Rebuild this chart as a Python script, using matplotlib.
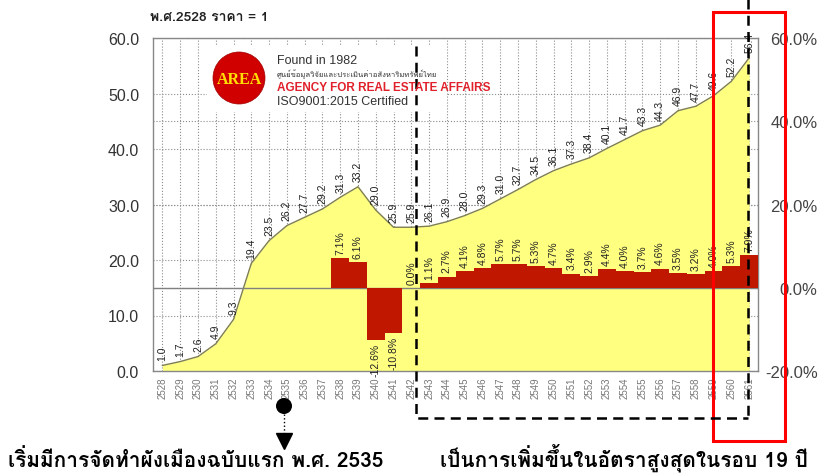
import matplotlib
matplotlib.use("Agg")
import matplotlib.pyplot as plt
from matplotlib import font_manager
from matplotlib.ft2font import FT2Font
from matplotlib.patches import Rectangle, Circle

# price index (2528 = 1) and yearly growth
years = list(range(2528, 2562))
prices = [1.0, 1.7, 2.6, 4.9, 9.3, 19.4, 23.5, 26.2, 27.7, 29.2,
          31.3, 33.2, 29.0, 25.9, 25.9, 26.1, 26.9, 28.0, 29.3, 31.0,
          32.7, 34.5, 36.1, 37.3, 38.4, 40.1, 41.7, 43.3, 44.3, 46.9,
          47.7, 49.6, 52.2, 56.4]
growth_years = list(range(2538, 2562))
growth = [7.1, 6.1, -12.6, -10.8, 0.0, 1.1, 2.7, 4.1, 4.8, 5.7,
          5.7, 5.3, 4.7, 3.4, 2.9, 4.4, 4.0, 3.7, 4.6, 3.5,
          3.2, 4.0, 5.3, 7.9]
left_ticks = [0, 10, 20, 30, 40, 50, 60]
right_ticks = [-20, 0, 20, 40, 60]


def find_thai_font():
    tried = set()
    for f in font_manager.fontManager.ttflist:
        if f.fname in tried:
            continue
        tried.add(f.fname)
        try:
            if 0x0E01 in FT2Font(f.fname).get_charmap():
                return f.name
        except Exception:
            pass
    return 'DejaVu Sans'


thai = find_thai_font()
plt.rcParams['font.family'] = ['Liberation Sans', 'DejaVu Sans']
thai_fam = [thai, 'Liberation Sans', 'DejaVu Sans']

W, H = 823, 477
fig = plt.figure(figsize=(W / 100, H / 100), dpi=100)
ax = fig.add_axes([153 / W, 1 - 372 / H, 605 / W, 333 / H])
ax2 = ax.twinx()
# left axes on top so the yellow area hides the right-axis grid
ax.set_zorder(ax2.get_zorder() + 1)
ax.patch.set_visible(False)

ax.set_xlim(2527.47, 2561.5)
ax.set_ylim(0, 60)
ax2.set_ylim(-20, 60)

grid_kw = dict(color='#8C8C8C', linestyle=':', linewidth=0.8)
ax.set_axisbelow(True)
ax.set_xticks(years)
ax.set_xticklabels([str(y) for y in years], rotation=90, fontsize=7, color='#777777')
ax.set_yticks(left_ticks)
ax.set_yticklabels(['%.1f' % t for t in left_ticks], fontsize=11.5, color='#333333')
ax.grid(True, **grid_kw)
ax.tick_params(length=0)
ax.tick_params(axis='y', pad=10)
ax.tick_params(axis='x', pad=4)

ax2.set_yticks(right_ticks)
ax2.set_yticklabels(['%.1f%%' % t for t in right_ticks], fontsize=12, color='#444444',
                    ha='right')
ax2.grid(True, axis='y', **grid_kw)
ax2.tick_params(length=0, pad=43)
for sp in ax2.spines.values():
    sp.set_visible(False)
for sp in ax.spines.values():
    sp.set_color('#888888')
    sp.set_linewidth(1)

# price area
ax.fill_between(years, prices, 0, color='#FFFF80', zorder=1, linewidth=0)
ax.plot(years, prices, color='#7E7E50', linewidth=1, zorder=2)
for y, v in zip(years, prices):
    ax.annotate('%.1f' % v, (y, v), xytext=(0, 4), textcoords='offset points',
                rotation=90, ha='center', va='bottom', fontsize=7.5, color='#222222', zorder=5)

# growth bars on the right scale
t2 = ax2.transData
ax.plot([0, 1], [0, 0], transform=ax2.get_yaxis_transform(), color='#808080',
        linewidth=1, zorder=3)
ax.bar(growth_years, growth, width=1.0, color='#C01800', linewidth=0,
       transform=t2, zorder=4)
for y, g in zip(growth_years, growth):
    ax.annotate('%.1f%%' % g, (y, g), xycoords=t2, xytext=(0, 3 if g >= 0 else -2),
                textcoords='offset points', rotation=90, ha='center',
                va='bottom' if g >= 0 else 'top', fontsize=7.5, color='#222222', zorder=5)
ax.set_xlim(2527.47, 2561.5)
ax.set_ylim(0, 60)

# overlay in pixel coordinates
ov = fig.add_axes([0, 0, 1, 1], zorder=10)
ov.set_xlim(0, W)
ov.set_ylim(H, 0)
ov.axis('off')

ov.text(150, 18, 'พ.ศ.2528 ราคา = 1', fontsize=10, fontweight='bold',
        family=thai_fam, va='center', ha='left', color='#222222')

# logo
ov.add_patch(Rectangle((207, 47), 240, 66, facecolor='white', edgecolor='none'))
ov.add_patch(Circle((239, 79), 26, facecolor='#D00000', edgecolor='#A00000', linewidth=0.5))
ov.text(239, 80, 'AREA', fontsize=11.5, fontweight='bold', family='Liberation Serif',
        color='#FFE000', ha='center', va='center')
ov.text(277, 61, 'Found in 1982', fontsize=9, color='#333333', va='center')
ov.text(277, 75, 'ศูนย์ข้อมูลวิจัยและประเมินค่าอสังหาริมทรัพย์ไทย', fontsize=5.5,
        family=thai_fam, color='#333333', va='center')
ov.text(277, 88, 'AGENCY FOR REAL ESTATE AFFAIRS', fontsize=8.5, fontweight='bold',
        color='#E0202A', va='center')
ov.text(277, 102, 'ISO9001:2015 Certified', fontsize=9, color='#333333', va='center')

# dashed box and red box
dash = dict(color='black', linewidth=1.8, linestyle=(0, (4, 2.5)))
ov.plot([416, 416, 748], [47, 419, 419], **dash)
ov.plot([748, 748], [0, 419], **dash)
ov.add_patch(Rectangle((713, 13), 72, 429, facecolor='none', edgecolor='#FF0000', linewidth=2.2))

# marker for 2535
ov.add_patch(Circle((284, 407), 8, facecolor='black'))
ov.plot([284, 284], [415, 436], color='black', linewidth=1, linestyle=':')
ov.plot([284], [442], marker='v', markersize=11, color='black')

ov.text(8, 467, 'เริ่มมีการจัดทำผังเมืองฉบับแรก พ.ศ. 2535', fontsize=15,
        fontweight='bold', family=thai_fam, color='black', va='baseline', ha='left')
ov.text(440, 467, 'เป็นการเพิ่มขึ้นในอัตราสูงสุดในรอบ 19 ปี', fontsize=15,
        fontweight='bold', family=thai_fam, color='black', va='baseline', ha='left')

fig.savefig('out.png', dpi=100)
